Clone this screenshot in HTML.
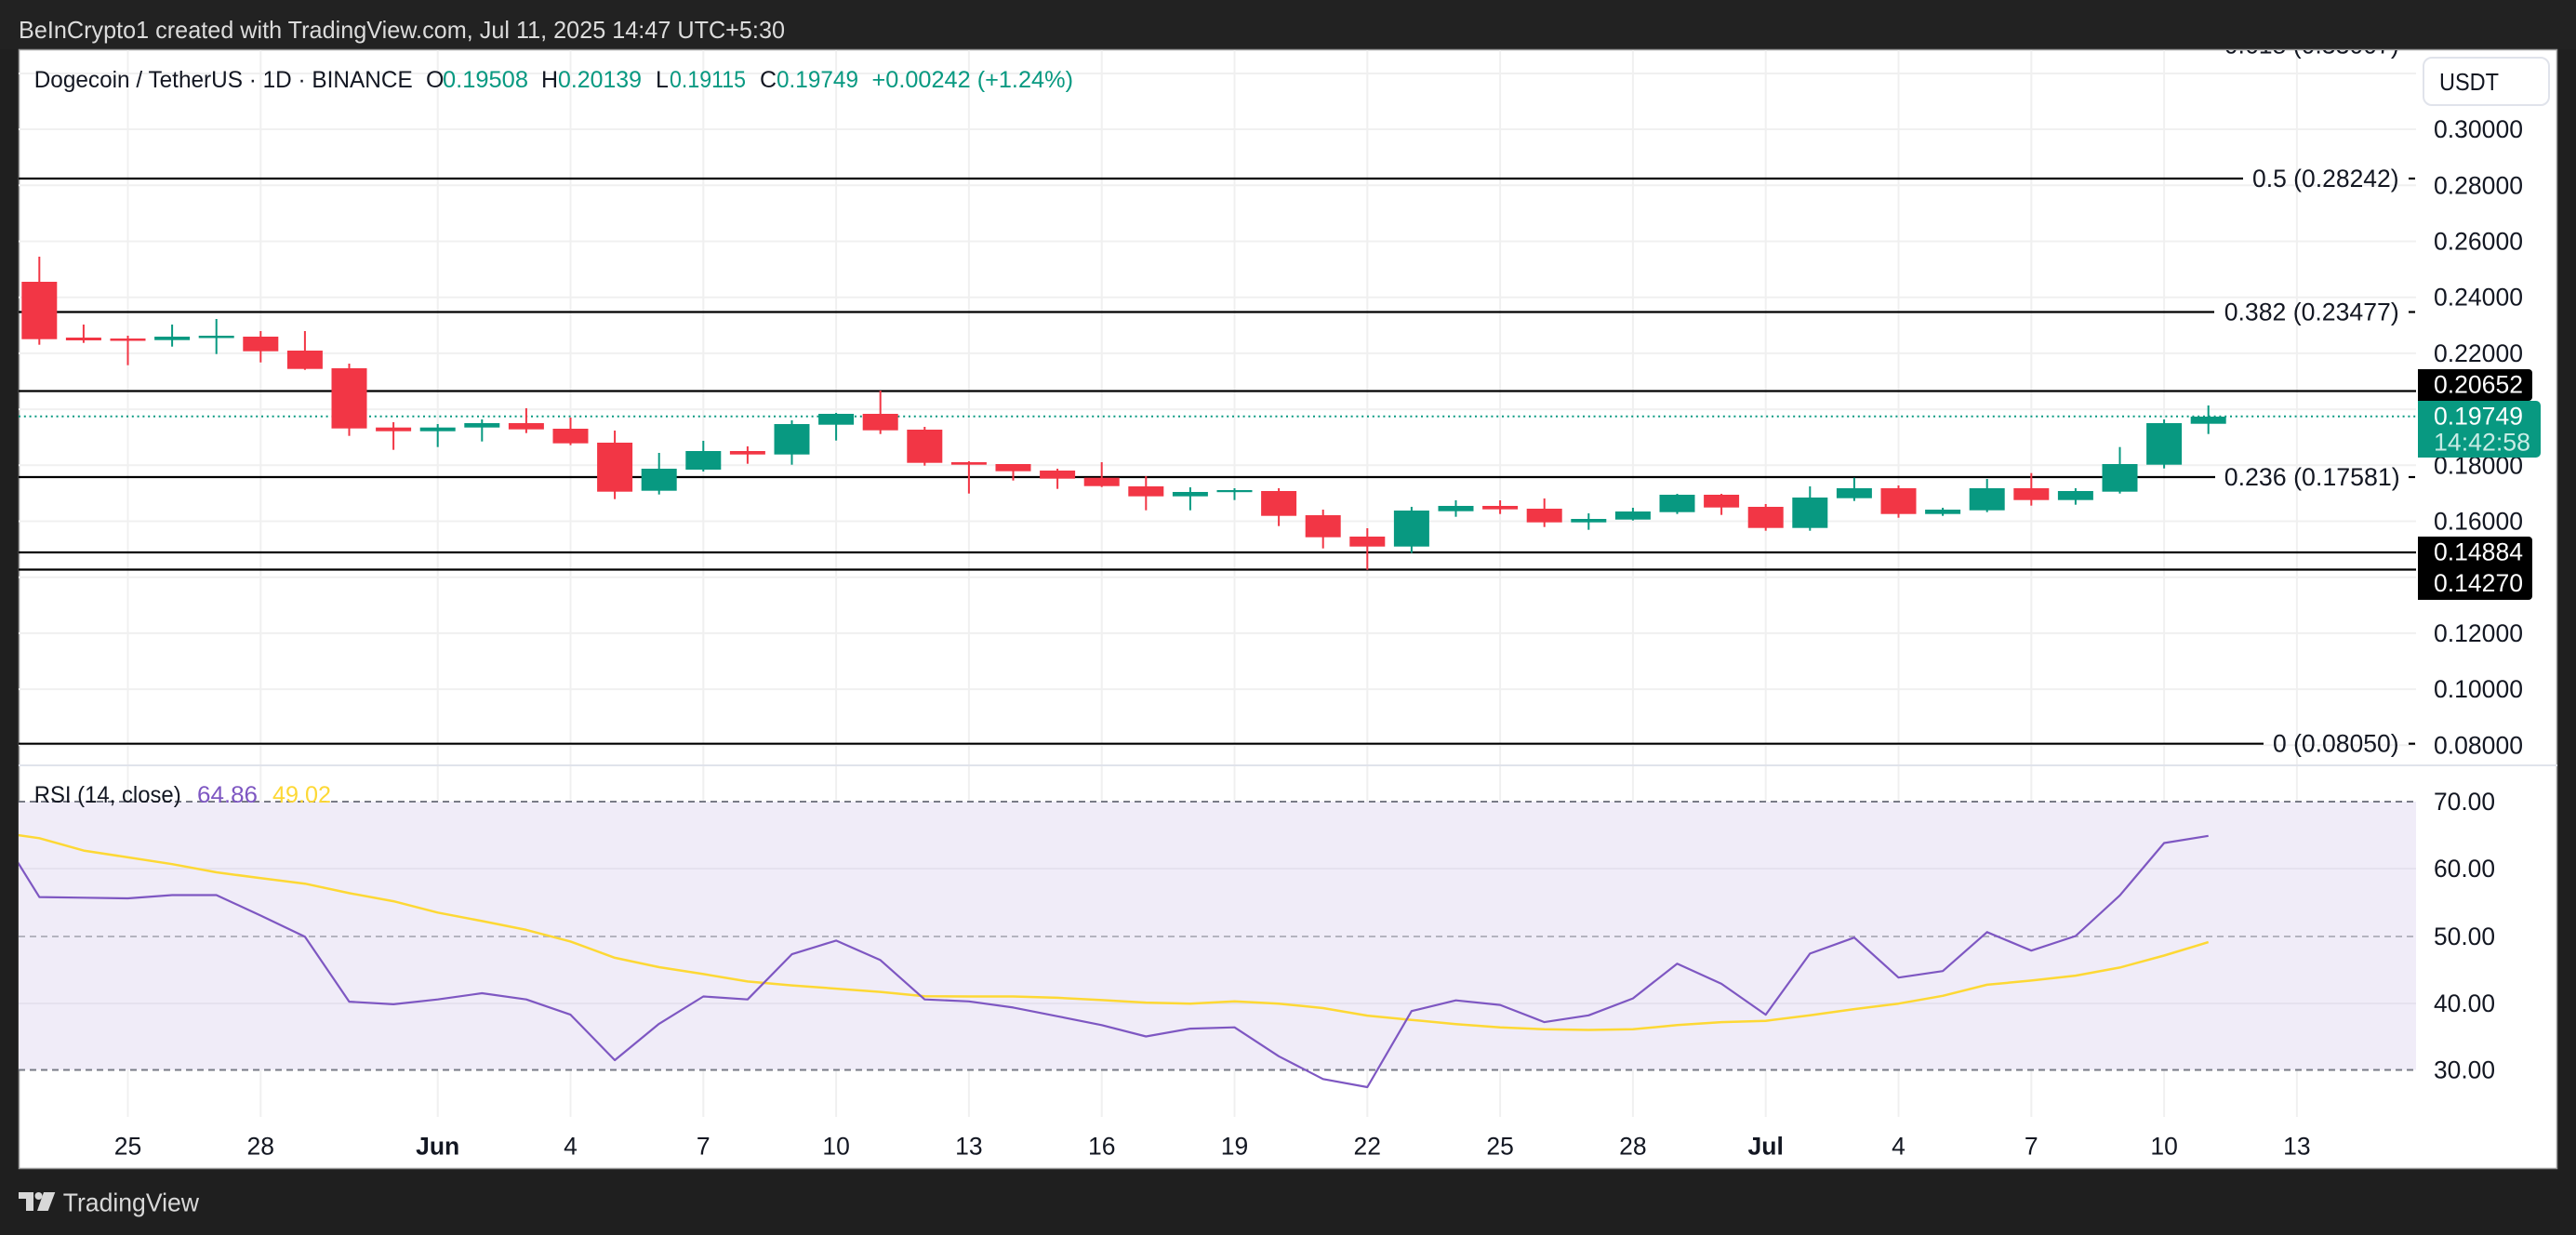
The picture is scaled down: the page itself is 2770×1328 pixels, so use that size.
<!DOCTYPE html>
<html>
<head>
<meta charset="utf-8">
<style>
  html,body{margin:0;padding:0;background:#1f1f1f;}
  svg{display:block;}
  text{font-family:"Liberation Sans",Arial,sans-serif;}
</style>
</head>
<body>
<svg width="2770" height="1328" viewBox="0 0 2770 1328" xmlns="http://www.w3.org/2000/svg">
  <defs>
    <clipPath id="pp"><rect x="20" y="54" width="2578" height="768"/></clipPath>
    <clipPath id="rp"><rect x="20" y="824" width="2578" height="377"/></clipPath>
  </defs>

  <!-- backgrounds -->
  <rect x="0" y="0" width="2770" height="1328" fill="#1f1f1f"/>
  <rect x="0" y="0" width="2770" height="53" fill="#222222"/>
  <text x="20" y="32" font-size="26" fill="#dcdcdc" dominant-baseline="central" textLength="824" lengthAdjust="spacingAndGlyphs">BeInCrypto1 created with TradingView.com, Jul 11, 2025 14:47 UTC+5:30</text>

  <rect x="20" y="53" width="2730" height="1204" fill="#ffffff"/>
  <rect x="20.5" y="53.5" width="2729" height="1203" fill="none" stroke="#9a9a9a" stroke-width="1.5"/>

  <!-- vertical grid -->
  <g stroke="#f0f0f0" stroke-width="2">
    <line x1="137.5" y1="54" x2="137.5" y2="1201"/>
    <line x1="280.3" y1="54" x2="280.3" y2="1201"/>
    <line x1="470.7" y1="54" x2="470.7" y2="1201"/>
    <line x1="613.5" y1="54" x2="613.5" y2="1201"/>
    <line x1="756.3" y1="54" x2="756.3" y2="1201"/>
    <line x1="899.1" y1="54" x2="899.1" y2="1201"/>
    <line x1="1041.9" y1="54" x2="1041.9" y2="1201"/>
    <line x1="1184.7" y1="54" x2="1184.7" y2="1201"/>
    <line x1="1327.5" y1="54" x2="1327.5" y2="1201"/>
    <line x1="1470.3" y1="54" x2="1470.3" y2="1201"/>
    <line x1="1613.1" y1="54" x2="1613.1" y2="1201"/>
    <line x1="1755.9" y1="54" x2="1755.9" y2="1201"/>
    <line x1="1898.7" y1="54" x2="1898.7" y2="1201"/>
    <line x1="2041.5" y1="54" x2="2041.5" y2="1201"/>
    <line x1="2184.3" y1="54" x2="2184.3" y2="1201"/>
    <line x1="2327.1" y1="54" x2="2327.1" y2="1201"/>
    <line x1="2469.9" y1="54" x2="2469.9" y2="1201"/>
  </g>
  <!-- horizontal grid price -->
  <g stroke="#f0f0f0" stroke-width="2">
    <line x1="20" y1="79" x2="2598" y2="79"/>
    <line x1="20" y1="139" x2="2598" y2="139"/>
    <line x1="20" y1="199.3" x2="2598" y2="199.3"/>
    <line x1="20" y1="259.5" x2="2598" y2="259.5"/>
    <line x1="20" y1="319.7" x2="2598" y2="319.7"/>
    <line x1="20" y1="379.9" x2="2598" y2="379.9"/>
    <line x1="20" y1="440.1" x2="2598" y2="440.1"/>
    <line x1="20" y1="500.3" x2="2598" y2="500.3"/>
    <line x1="20" y1="560.5" x2="2598" y2="560.5"/>
    <line x1="20" y1="620.7" x2="2598" y2="620.7"/>
    <line x1="20" y1="680.9" x2="2598" y2="680.9"/>
    <line x1="20" y1="741.1" x2="2598" y2="741.1"/>
    <line x1="20" y1="801.3" x2="2598" y2="801.3"/>
  </g>

  <!-- legend -->
  <g font-size="25" dominant-baseline="central">
    <text x="36.7" y="86" fill="#131722" textLength="407" lengthAdjust="spacingAndGlyphs">Dogecoin / TetherUS · 1D · BINANCE</text>
    <text x="458" y="86" fill="#131722">O</text>
    <text x="476" y="86" fill="#089981" textLength="92" lengthAdjust="spacingAndGlyphs">0.19508</text>
    <text x="582" y="86" fill="#131722">H</text>
    <text x="600" y="86" fill="#089981" textLength="90" lengthAdjust="spacingAndGlyphs">0.20139</text>
    <text x="705" y="86" fill="#131722">L</text>
    <text x="720" y="86" fill="#089981" textLength="82" lengthAdjust="spacingAndGlyphs">0.19115</text>
    <text x="817" y="86" fill="#131722">C</text>
    <text x="835" y="86" fill="#089981" textLength="88" lengthAdjust="spacingAndGlyphs">0.19749</text>
    <text x="937.5" y="86" fill="#089981" textLength="216.5" lengthAdjust="spacingAndGlyphs">+0.00242 (+1.24%)</text>
  </g>

  <!-- fib & horizontal lines -->
  <g stroke="#000" stroke-width="2.2">
    <line x1="20" y1="192" x2="2412" y2="192"/>
    <line x1="20" y1="335.5" x2="2381" y2="335.5"/>
    <line x1="20" y1="420.5" x2="2598" y2="420.5"/>
    <line x1="20" y1="513" x2="2382" y2="513"/>
    <line x1="20" y1="594" x2="2598" y2="594"/>
    <line x1="20" y1="612.5" x2="2598" y2="612.5"/>
    <line x1="20" y1="799.7" x2="2434" y2="799.7"/>
    <line x1="2590" y1="192" x2="2597" y2="192"/>
    <line x1="2590" y1="335.5" x2="2597" y2="335.5"/>
    <line x1="2590" y1="513" x2="2597" y2="513"/>
    <line x1="2590" y1="799.7" x2="2597" y2="799.7"/>
  </g>
  <g font-size="26.5" fill="#131722" dominant-baseline="central">
    <text x="2391.7" y="48.5" clip-path="url(#pp)" textLength="188" lengthAdjust="spacingAndGlyphs">0.618 (0.33007)</text>
    <text x="2422" y="192" textLength="157.6" lengthAdjust="spacingAndGlyphs">0.5 (0.28242)</text>
    <text x="2391.7" y="335.5" textLength="188" lengthAdjust="spacingAndGlyphs">0.382 (0.23477)</text>
    <text x="2391.7" y="513" textLength="189" lengthAdjust="spacingAndGlyphs">0.236 (0.17581)</text>
    <text x="2444" y="799.7" textLength="135.6" lengthAdjust="spacingAndGlyphs">0 (0.08050)</text>
  </g>

  <!-- current price dotted line -->
  <line x1="20" y1="447.7" x2="2598" y2="447.7" stroke="#089981" stroke-width="2" stroke-dasharray="2 3.8"/>

  <!-- candles -->
  <g fill="#f23645">
    <rect x="41.3" y="276" width="2" height="94.7"/><rect x="23.3" y="303" width="38" height="61.7"/>
    <rect x="88.9" y="349" width="2" height="19.7"/><rect x="70.9" y="363" width="38" height="3"/>
    <rect x="136.5" y="361" width="2" height="31.7"/><rect x="118.5" y="364" width="38" height="2.5"/>
    <rect x="279.3" y="356" width="2" height="33.7"/><rect x="261.3" y="362" width="38" height="15.7"/>
    <rect x="326.9" y="356" width="2" height="41.7"/><rect x="308.9" y="377" width="38" height="19.7"/>
    <rect x="374.5" y="391" width="2" height="77.7"/><rect x="356.5" y="396" width="38" height="64.7"/>
    <rect x="422.1" y="454" width="2" height="29.7"/><rect x="404.1" y="459.7" width="38" height="4"/>
    <rect x="564.9" y="439" width="2" height="26.7"/><rect x="546.9" y="455" width="38" height="6.7"/>
    <rect x="612.5" y="449" width="2" height="29.7"/><rect x="594.5" y="461" width="38" height="15.7"/>
    <rect x="660.1" y="463" width="2" height="73.7"/><rect x="642.1" y="476" width="38" height="52.7"/>
    <rect x="802.9" y="480" width="2" height="18.7"/><rect x="784.9" y="485" width="38" height="3.7"/>
    <rect x="945.7" y="420" width="2" height="46.7"/><rect x="927.7" y="445" width="38" height="17.7"/>
    <rect x="993.3" y="459" width="2" height="41.7"/><rect x="975.3" y="462" width="38" height="35.7"/>
    <rect x="1040.9" y="496" width="2" height="34.7"/><rect x="1022.9" y="497" width="38" height="2.7"/>
    <rect x="1088.5" y="499" width="2" height="17.7"/><rect x="1070.5" y="499" width="38" height="7.7"/>
    <rect x="1136.1" y="504" width="2" height="21.7"/><rect x="1118.1" y="506" width="38" height="8.7"/>
    <rect x="1183.7" y="497" width="2" height="26.7"/><rect x="1165.7" y="513.7" width="38" height="9"/>
    <rect x="1231.3" y="512" width="2" height="36.7"/><rect x="1213.3" y="523" width="38" height="10.7"/>
    <rect x="1374.1" y="525" width="2" height="40.7"/><rect x="1356.1" y="528" width="38" height="26.7"/>
    <rect x="1421.7" y="548" width="2" height="41.7"/><rect x="1403.7" y="554" width="38" height="23.7"/>
    <rect x="1469.3" y="568" width="2" height="44.7"/><rect x="1451.3" y="577" width="38" height="10.7"/>
    <rect x="1612.1" y="538" width="2" height="14.7"/><rect x="1594.1" y="544" width="38" height="3.7"/>
    <rect x="1659.7" y="536" width="2" height="30.7"/><rect x="1641.7" y="547" width="38" height="14.7"/>
    <rect x="1850.1" y="531" width="2" height="22.7"/><rect x="1832.1" y="532" width="38" height="13.7"/>
    <rect x="1897.7" y="542" width="2" height="28.7"/><rect x="1879.7" y="545" width="38" height="22.7"/>
    <rect x="2040.5" y="522" width="2" height="34.7"/><rect x="2022.5" y="525" width="38" height="27.7"/>
    <rect x="2183.3" y="508.7" width="2" height="35"/><rect x="2165.3" y="525" width="38" height="12.7"/>
  </g>
  <g fill="#089981">
    <rect x="184.1" y="349" width="2" height="23.7"/><rect x="166.1" y="362" width="38" height="3.7"/>
    <rect x="231.7" y="343" width="2" height="37.7"/><rect x="213.7" y="361" width="38" height="2.5"/>
    <rect x="469.7" y="456" width="2" height="24.7"/><rect x="451.7" y="459.7" width="38" height="4"/>
    <rect x="517.3" y="451" width="2" height="23.7"/><rect x="499.3" y="455" width="38" height="4.7"/>
    <rect x="707.7" y="487" width="2" height="44.7"/><rect x="689.7" y="504" width="38" height="23.7"/>
    <rect x="755.3" y="474" width="2" height="33"/><rect x="737.3" y="485" width="38" height="20"/>
    <rect x="850.5" y="452" width="2" height="47.7"/><rect x="832.5" y="456" width="38" height="32.7"/>
    <rect x="898.1" y="444" width="2" height="29.7"/><rect x="880.1" y="445" width="38" height="11.7"/>
    <rect x="1278.9" y="524" width="2" height="24.7"/><rect x="1260.9" y="529" width="38" height="4.7"/>
    <rect x="1326.5" y="525" width="2" height="12.7"/><rect x="1308.5" y="527" width="38" height="2.2"/>
    <rect x="1516.9" y="545" width="2" height="49.7"/><rect x="1498.9" y="549" width="38" height="38.7"/>
    <rect x="1564.5" y="538" width="2" height="17.7"/><rect x="1546.5" y="544" width="38" height="5.7"/>
    <rect x="1707.3" y="552" width="2" height="17.7"/><rect x="1689.3" y="558" width="38" height="3.7"/>
    <rect x="1754.9" y="546" width="2" height="13.7"/><rect x="1736.9" y="550" width="38" height="8.7"/>
    <rect x="1802.5" y="531" width="2" height="21.7"/><rect x="1784.5" y="532" width="38" height="18.7"/>
    <rect x="1945.3" y="523" width="2" height="47.7"/><rect x="1927.3" y="535" width="38" height="32.7"/>
    <rect x="1992.9" y="513.7" width="2" height="25"/><rect x="1974.9" y="525" width="38" height="10.7"/>
    <rect x="2088.1" y="546" width="2" height="8.7"/><rect x="2070.1" y="548" width="38" height="4.7"/>
    <rect x="2135.7" y="515" width="2" height="35.7"/><rect x="2117.7" y="525" width="38" height="23.7"/>
    <rect x="2230.9" y="525" width="2" height="17.7"/><rect x="2212.9" y="528" width="38" height="9.7"/>
    <rect x="2278.5" y="480.7" width="2" height="50"/><rect x="2260.5" y="499" width="38" height="29.7"/>
    <rect x="2326.1" y="451" width="2" height="52.7"/><rect x="2308.1" y="455" width="38" height="44.7"/>
    <rect x="2373.7" y="436" width="2" height="30.7"/><rect x="2355.7" y="448" width="38" height="7.7"/>
  </g>

  <!-- price axis -->
  <rect x="2606" y="62" width="135" height="51" rx="9" fill="#fff" stroke="#e0e3eb" stroke-width="2"/>
  <text x="2623" y="88" font-size="26" fill="#131722" dominant-baseline="central" textLength="64" lengthAdjust="spacingAndGlyphs">USDT</text>
  <g font-size="26.5" fill="#131722" dominant-baseline="central">
    <text x="2617" y="139" textLength="96" lengthAdjust="spacingAndGlyphs">0.30000</text>
    <text x="2617" y="199.3" textLength="96" lengthAdjust="spacingAndGlyphs">0.28000</text>
    <text x="2617" y="259.5" textLength="96" lengthAdjust="spacingAndGlyphs">0.26000</text>
    <text x="2617" y="319.7" textLength="96" lengthAdjust="spacingAndGlyphs">0.24000</text>
    <text x="2617" y="379.9" textLength="96" lengthAdjust="spacingAndGlyphs">0.22000</text>
    <text x="2617" y="500.3" textLength="96" lengthAdjust="spacingAndGlyphs">0.18000</text>
    <text x="2617" y="560.5" textLength="96" lengthAdjust="spacingAndGlyphs">0.16000</text>
    <text x="2617" y="680.9" textLength="96" lengthAdjust="spacingAndGlyphs">0.12000</text>
    <text x="2617" y="741.1" textLength="96" lengthAdjust="spacingAndGlyphs">0.10000</text>
    <text x="2617" y="801.3" textLength="96" lengthAdjust="spacingAndGlyphs">0.08000</text>
  </g>
  <!-- price label boxes -->
  <path d="M2600 397 H2719 a4 4 0 0 1 4 4 V427 a4 4 0 0 1 -4 4 H2600 Z" fill="#000"/>
  <path d="M2600 431 H2727 a5 5 0 0 1 5 5 V487 a5 5 0 0 1 -5 5 H2600 Z" fill="#089981"/>
  <path d="M2600 577 H2719 a4 4 0 0 1 4 4 V611 H2600 Z" fill="#000"/>
  <path d="M2600 611 H2723 V641 a4 4 0 0 1 -4 4 H2600 Z" fill="#000"/>
  <g font-size="26.5" dominant-baseline="central">
    <text x="2617" y="413.5" fill="#fff" textLength="96" lengthAdjust="spacingAndGlyphs">0.20652</text>
    <text x="2617" y="447.7" fill="#fff" textLength="96" lengthAdjust="spacingAndGlyphs">0.19749</text>
    <text x="2617" y="475.7" fill="#c8ece5" textLength="104" lengthAdjust="spacingAndGlyphs">14:42:58</text>
    <text x="2617" y="593.5" fill="#fff" textLength="96" lengthAdjust="spacingAndGlyphs">0.14884</text>
    <text x="2617" y="627" fill="#fff" textLength="96" lengthAdjust="spacingAndGlyphs">0.14270</text>
  </g>

  <!-- pane separator -->
  <line x1="20" y1="823" x2="2750" y2="823" stroke="#e0e3eb" stroke-width="2"/>

  <!-- RSI pane -->
  <rect x="20" y="862" width="2578" height="288.5" fill="#f0ecf8"/>
  <g stroke="#e5e1ee" stroke-width="2">
    <line x1="20" y1="934" x2="2598" y2="934"/>
    <line x1="20" y1="1079" x2="2598" y2="1079"/>
  </g>
  <g stroke="#787b86" stroke-width="2" stroke-dasharray="7 5">
    <line x1="20" y1="862" x2="2598" y2="862"/>
    <line x1="20" y1="1150.5" x2="2598" y2="1150.5"/>
    <line x1="20" y1="1007" x2="2598" y2="1007" stroke-opacity="0.5"/>
  </g>
  <g clip-path="url(#rp)" fill="none" stroke-linejoin="round">
    <polyline stroke="#fdd835" stroke-width="2.5" points="-5.3,894.5 42.3,901.3 89.9,914.6 137.5,921.9 185.1,929.2 232.7,938 280.3,944.3 327.9,950.2 375.5,960.4 423.1,969.1 470.7,981.3 518.3,990.4 565.9,999.9 613.5,1012.4 661.1,1029.9 708.7,1040 756.3,1047.4 803.9,1055.4 851.5,1059.6 899.1,1063.1 946.7,1066.6 994.3,1071.2 1041.9,1071.5 1089.5,1071.5 1137.1,1072.9 1184.7,1075.4 1232.3,1078.1 1279.9,1079.2 1327.5,1076.8 1375.1,1079.2 1422.7,1084 1470.3,1092.1 1517.9,1096.7 1565.5,1101.2 1613.1,1104.7 1660.7,1106.8 1708.3,1107.5 1755.9,1106.8 1803.5,1102.3 1851.1,1099.1 1898.7,1097.7 1946.3,1091.8 1993.9,1085.1 2041.5,1079.2 2089.1,1070.8 2136.7,1058.9 2184.3,1054.4 2231.9,1049.1 2279.5,1040.4 2327.1,1027.5 2374.7,1013.1"/>
    <polyline stroke="#7e57c2" stroke-width="2.2" points="-5.3,888 42.3,964.6 89.9,965.3 137.5,966 185.1,962.5 232.7,962.5 280.3,984.5 327.9,1007.2 375.5,1077.1 423.1,1079.9 470.7,1074.7 518.3,1068 565.9,1074.7 613.5,1091.1 661.1,1140 708.7,1100.9 756.3,1071.5 803.9,1074.7 851.5,1026.1 899.1,1011.4 946.7,1032.4 994.3,1074.7 1041.9,1076.8 1089.5,1083.4 1137.1,1092.8 1184.7,1102.3 1232.3,1114.5 1279.9,1106.1 1327.5,1104.7 1375.1,1135.8 1422.7,1160.3 1470.3,1169 1517.9,1087.2 1565.5,1075.7 1613.1,1080.6 1660.7,1099.1 1708.3,1091.8 1755.9,1073.6 1803.5,1036.2 1851.1,1057.9 1898.7,1091.1 1946.3,1025.4 1993.9,1008.2 2041.5,1051.2 2089.1,1044.2 2136.7,1002.3 2184.3,1022.2 2231.9,1006.5 2279.5,962.8 2327.1,906.5 2374.7,898.8"/>
  </g>
  <g font-size="25" dominant-baseline="central">
    <text x="36.7" y="855" fill="#131722" textLength="158" lengthAdjust="spacingAndGlyphs">RSI (14, close)</text>
    <text x="212" y="855" fill="#7e57c2" textLength="65" lengthAdjust="spacingAndGlyphs">64.86</text>
    <text x="293" y="855" fill="#fdd835" textLength="63" lengthAdjust="spacingAndGlyphs">49.02</text>
  </g>
  <g font-size="26.5" fill="#131722" dominant-baseline="central">
    <text x="2617" y="862" textLength="66" lengthAdjust="spacingAndGlyphs">70.00</text>
    <text x="2617" y="934" textLength="66" lengthAdjust="spacingAndGlyphs">60.00</text>
    <text x="2617" y="1007" textLength="66" lengthAdjust="spacingAndGlyphs">50.00</text>
    <text x="2617" y="1079" textLength="66" lengthAdjust="spacingAndGlyphs">40.00</text>
    <text x="2617" y="1150.5" textLength="66" lengthAdjust="spacingAndGlyphs">30.00</text>
  </g>

  <!-- time axis -->
  <g font-size="26.5" fill="#131722" text-anchor="middle" dominant-baseline="central">
    <text x="137.5" y="1232.6">25</text>
    <text x="280.3" y="1232.6">28</text>
    <text x="470.7" y="1232.6" font-weight="bold">Jun</text>
    <text x="613.5" y="1232.6">4</text>
    <text x="756.3" y="1232.6">7</text>
    <text x="899.1" y="1232.6">10</text>
    <text x="1041.9" y="1232.6">13</text>
    <text x="1184.7" y="1232.6">16</text>
    <text x="1327.5" y="1232.6">19</text>
    <text x="1470.3" y="1232.6">22</text>
    <text x="1613.1" y="1232.6">25</text>
    <text x="1755.9" y="1232.6">28</text>
    <text x="1898.7" y="1232.6" font-weight="bold">Jul</text>
    <text x="2041.5" y="1232.6">4</text>
    <text x="2184.3" y="1232.6">7</text>
    <text x="2327.1" y="1232.6">10</text>
    <text x="2469.9" y="1232.6">13</text>
  </g>

  <!-- footer logo -->
  <g fill="#d8d8d8">
    <polygon points="20,1282 36,1282 36,1302 28,1302 28,1289 20,1289"/>
    <circle cx="41.5" cy="1286" r="4"/>
    <polygon points="47,1282 59.3,1282 51.7,1302 40,1302"/>
  </g>
  <text x="67.7" y="1302.7" font-size="27.5" fill="#d8d8d8" textLength="146.3" lengthAdjust="spacingAndGlyphs">TradingView</text>
</svg>
</body>
</html>
